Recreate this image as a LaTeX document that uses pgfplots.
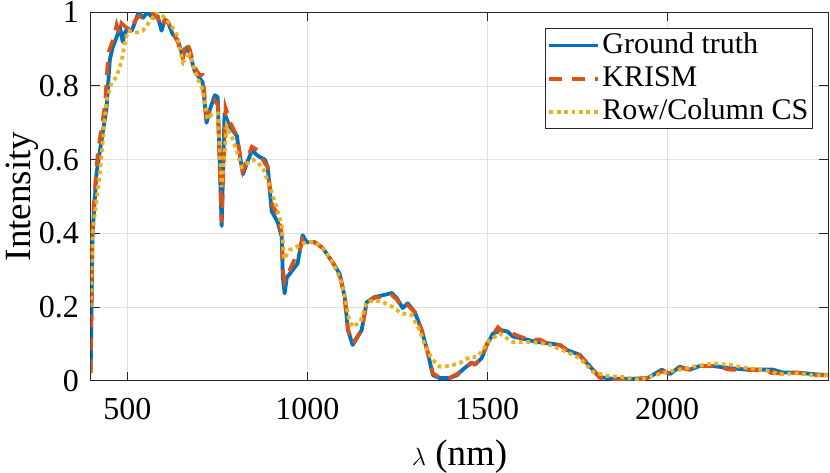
\documentclass[border=0pt]{standalone}
\usepackage{fontspec}
\setmainfont{Liberation Serif}
\usepackage{pgfplots}
\pgfplotsset{compat=1.18}
\definecolor{mblue}{rgb}{0,0.447,0.741}
\definecolor{morange}{rgb}{0.85,0.325,0.098}
\definecolor{myellow}{rgb}{0.929,0.694,0.125}
\definecolor{axgray}{rgb}{0.15,0.15,0.15}
\begin{document}
\fontsize{32}{38}\selectfont
\begin{tikzpicture}
\path[use as bounding box] (0,0) rectangle (830pt,473pt);
\begin{axis}[
  at={(90.7pt,92.3pt)}, anchor=south west,
  scale only axis, width=737.6pt, height=368.4pt,
  xmin=398, xmax=2448, ymin=0, ymax=1,
  xtick={500,1000,1500,2000},
  ytick={0,0.2,0.4,0.6,0.8,1},
  /pgf/number format/1000 sep={},
  /pgf/number format/assume math mode=true,
  tick label style={font=\fontsize{32}{38}\selectfont},
  xticklabel style={yshift=-7pt},
  yticklabel style={xshift=-1pt},
  label style={font=\fontsize{37}{44}\selectfont},
  xlabel={$\lambda$ (nm)},
  ylabel={Intensity},
  xlabel style={at={(axis description cs:0.5,-0.205)}, anchor=center},
  ylabel style={at={(axis description cs:-0.093,0.5)}, anchor=center},
  grid=major,
  major grid style={line width=0.8pt, color=black!12},
  axis line style={color=axgray, line width=1pt},
  tick style={color=axgray, line width=1pt},
  major tick length=9pt,
  tick align=inside,
  xtick pos=both, ytick pos=both,
  legend style={at={(rel axis cs:0.9788,0.9566)}, anchor=north east,
    draw=axgray, line width=0.8pt, font=\fontsize{30}{36}\selectfont,
    inner sep=2pt, row sep=4pt,
    nodes={inner sep=2pt}},
  legend cell align=left,
  legend image code/.code={\draw[#1] (0pt,0pt) -- (49pt,0pt);},
]
\addplot[mblue, line width=3.8pt, line join=round] coordinates {
(398,0.03) (403,0.40) (414,0.56) (423,0.62) (442,0.74) (451,0.87) (459,0.905)
(473,0.94) (479,0.96) (487,0.92) (495,0.95) (512,0.95) (520,0.97) (531,1.00)
(543,0.985) (556,1.00) (570,0.985) (584,0.99) (595,0.95) (604,0.98) (612,0.975)
(626,0.94) (640,0.925) (654,0.88) (665,0.905) (673,0.89) (687,0.84) (698,0.825)
(709,0.81) (720,0.70) (729,0.735) (743,0.775) (751,0.77) (762,0.42) (770,0.725)
(784,0.69) (804,0.665) (821,0.56) (832,0.59) (846,0.625) (863,0.61) (882,0.60)
(890,0.58) (901,0.46) (918,0.43) (929,0.39) (932,0.28) (937,0.237) (943,0.28)
(973,0.318) (987,0.395) (998,0.376) (1021,0.376) (1043,0.36) (1071,0.32)
(1090,0.29) (1104,0.227) (1113,0.137) (1126,0.097) (1151,0.137) (1165,0.213)
(1187,0.227) (1210,0.232) (1235,0.238) (1249,0.224) (1265,0.197) (1279,0.21)
(1299,0.186) (1318,0.137) (1335,0.075) (1349,0.015) (1368,0.007) (1396,0.007)
(1416,0.015) (1432,0.03) (1457,0.05) (1466,0.043) (1485,0.062) (1499,0.097)
(1516,0.128) (1541,0.137) (1557,0.133) (1571,0.12) (1599,0.114) (1638,0.105)
(1666,0.102) (1702,0.097) (1722,0.083) (1758,0.07) (1786,0.038) (1813,0.01)
(1849,0.005) (1897,0.005) (1944,0.007) (1960,0.015) (1985,0.03) (2008,0.018)
(2035,0.038) (2063,0.03) (2091,0.04) (2127,0.04) (2175,0.034) (2222,0.03)
(2266,0.03) (2294,0.03) (2322,0.022) (2361,0.022) (2405,0.018) (2447,0.015)
};
\addlegendentry{Ground truth}
\addplot[morange, line width=3.8pt, dash pattern=on 13pt off 10pt] coordinates {
(398,0.02) (403,0.42) (412,0.55) (418,0.62) (438,0.75) (447,0.89) (462,0.93)
(470,0.965) (478,0.94) (484,0.97) (495,0.96) (512,0.95) (520,0.975) (531,0.99)
(543,0.985) (556,0.99) (570,1.0) (584,0.985) (595,0.96) (604,0.98) (612,0.975)
(626,0.945) (640,0.92) (654,0.875) (662,0.92) (673,0.90) (687,0.85) (700,0.83)
(709,0.83) (720,0.72) (732,0.74) (743,0.76) (751,0.75) (762,0.43) (773,0.74)
(786,0.70) (804,0.665) (821,0.57) (832,0.60) (846,0.635) (863,0.625) (882,0.59)
(890,0.58) (901,0.48) (918,0.45) (929,0.40) (932,0.30) (937,0.27) (951,0.30)
(965,0.33) (975,0.34) (987,0.385) (998,0.38) (1021,0.375) (1043,0.36)
(1071,0.32) (1090,0.29) (1104,0.225) (1113,0.14) (1126,0.10) (1151,0.137)
(1165,0.213) (1187,0.225) (1210,0.228) (1235,0.232) (1249,0.22) (1265,0.197)
(1279,0.205) (1299,0.186) (1318,0.137) (1335,0.075) (1349,0.02) (1368,0.008)
(1396,0.008) (1416,0.018) (1432,0.03) (1457,0.048) (1466,0.045) (1485,0.062)
(1499,0.10) (1516,0.125) (1530,0.145) (1541,0.135) (1560,0.132) (1590,0.12)
(1620,0.11) (1645,0.112) (1670,0.10) (1702,0.097) (1722,0.083) (1758,0.068)
(1786,0.036) (1813,0.008) (1849,0.0) (1897,0.003) (1944,0.007) (1960,0.015)
(1985,0.025) (2008,0.02) (2035,0.035) (2063,0.03) (2091,0.04) (2127,0.04)
(2175,0.03) (2222,0.03) (2266,0.028) (2294,0.02) (2322,0.02) (2361,0.022)
(2405,0.015) (2447,0.015)
};
\addlegendentry{KRISM}
\addplot[myellow, line width=3.8pt, dash pattern=on 3.8pt off 3.6pt] coordinates {
(398,0.20) (403,0.40) (423,0.56) (442,0.76) (456,0.81) (470,0.825) (484,0.87)
(493,0.915) (501,0.95) (526,0.945) (543,0.95) (562,0.975) (581,1.0) (598,0.99)
(618,0.97) (637,0.94) (654,0.865) (673,0.885) (693,0.825) (709,0.79) (723,0.71)
(737,0.725) (751,0.725) (762,0.525) (776,0.69) (793,0.655) (818,0.58) (849,0.60)
(876,0.58) (896,0.525) (915,0.47) (929,0.42) (935,0.33) (951,0.355) (973,0.365)
(998,0.377) (1021,0.376) (1043,0.36) (1071,0.32) (1090,0.28) (1104,0.23)
(1115,0.17) (1126,0.146) (1148,0.16) (1165,0.213) (1187,0.218) (1210,0.213)
(1237,0.20) (1262,0.183) (1290,0.178) (1312,0.137) (1332,0.083) (1349,0.056)
(1368,0.038) (1396,0.04) (1424,0.048) (1452,0.064) (1471,0.064) (1488,0.083)
(1507,0.11) (1535,0.128) (1571,0.105) (1619,0.105) (1666,0.10) (1722,0.078)
(1758,0.06) (1794,0.024) (1833,0.013) (1877,0.01) (1924,0.002) (1960,0.013)
(1999,0.024) (2035,0.03) (2083,0.04) (2127,0.047) (2175,0.043) (2222,0.034)
(2266,0.03) (2314,0.018) (2361,0.02) (2405,0.015) (2447,0.015)
};
\addlegendentry{Row/Column CS}
\end{axis}
\end{tikzpicture}
\end{document}
